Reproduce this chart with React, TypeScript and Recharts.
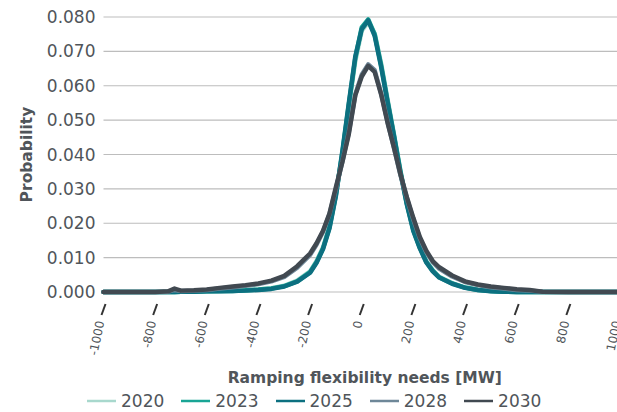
import React from 'react';
import { LineChart, Line, XAxis, YAxis, CartesianGrid, Legend } from 'recharts';

// Ramping flexibility needs [MW] (bin centres)
const rampMW = [-1000, -900, -800, -750, -725, -700, -650, -600, -550, -500, -450, -400, -350, -300, -250, -200, -175, -150, -125, -100, -75, -50, -25, 0, 25, 50, 75, 100, 125, 150, 175, 200, 225, 250, 275, 300, 350, 400, 450, 500, 550, 600, 650, 700, 800, 900, 1000];

const p2020 = [0, 0, 0, 0, 0, 0.0001, 0.0002, 0.0002, 0.0003, 0.0004, 0.0005, 0.0007, 0.0011, 0.0018, 0.0033, 0.0060, 0.0090, 0.0130, 0.0192, 0.0288, 0.0400, 0.0540, 0.0672, 0.0760, 0.0785, 0.0752, 0.0665, 0.0560, 0.0458, 0.0352, 0.0258, 0.0182, 0.0131, 0.0090, 0.0063, 0.0044, 0.0026, 0.0013, 0.0007, 0.0003, 0.0001, 0, 0, 0, 0, 0, 0];
const p2023 = [0, 0, 0, 0, 0, 0.0001, 0.0001, 0.0002, 0.0003, 0.0003, 0.0005, 0.0007, 0.0010, 0.0017, 0.0031, 0.0058, 0.0087, 0.0127, 0.0188, 0.0283, 0.0405, 0.0545, 0.0680, 0.0770, 0.0793, 0.0750, 0.0660, 0.0555, 0.0455, 0.0350, 0.0256, 0.0180, 0.0129, 0.0088, 0.0062, 0.0043, 0.0025, 0.0013, 0.0006, 0.0003, 0.0001, 0, 0, 0, 0, 0, 0];
const p2025 = [0, 0, 0, 0, 0, 0.0001, 0.0001, 0.0002, 0.0002, 0.0003, 0.0004, 0.0006, 0.0009, 0.0016, 0.0030, 0.0056, 0.0085, 0.0125, 0.0185, 0.0280, 0.0410, 0.0550, 0.0685, 0.0765, 0.0790, 0.0745, 0.0655, 0.0552, 0.0452, 0.0346, 0.0253, 0.0177, 0.0127, 0.0086, 0.0060, 0.0042, 0.0024, 0.0012, 0.0006, 0.0002, 0.0001, 0, 0, 0, 0, 0, 0];
const p2028 = [0, 0, 0, 0.0001, 0.0006, 0.0003, 0.0004, 0.0006, 0.0010, 0.0014, 0.0018, 0.0023, 0.0031, 0.0044, 0.0071, 0.0108, 0.0138, 0.0175, 0.0226, 0.0300, 0.0380, 0.0465, 0.0575, 0.0632, 0.0662, 0.0645, 0.0578, 0.0495, 0.0418, 0.0340, 0.0272, 0.0210, 0.0156, 0.0116, 0.0087, 0.0068, 0.0045, 0.0029, 0.0020, 0.0014, 0.0010, 0.0006, 0.0004, 0.0001, 0, 0, 0];
const p2030 = [0, 0, 0, 0.0002, 0.0010, 0.0004, 0.0005, 0.0007, 0.0012, 0.0016, 0.0020, 0.0025, 0.0033, 0.0047, 0.0075, 0.0112, 0.0142, 0.0178, 0.0228, 0.0305, 0.0378, 0.0460, 0.0572, 0.0627, 0.0658, 0.0640, 0.0575, 0.0492, 0.0420, 0.0342, 0.0275, 0.0215, 0.0160, 0.0120, 0.0090, 0.0072, 0.0048, 0.0031, 0.0022, 0.0016, 0.0012, 0.0008, 0.0006, 0.0001, 0, 0, 0];

const xTicks = [-1000, -800, -600, -400, -200, 0, 200, 400, 600, 800, 1000];
const yTicks = [0, 0.01, 0.02, 0.03, 0.04, 0.05, 0.06, 0.07, 0.08];

const series = [
  { key: 'y2020', name: '2020', values: p2020, color: '#a8d8cd' },
  { key: 'y2023', name: '2023', values: p2023, color: '#19a595' },
  { key: 'y2025', name: '2025', values: p2025, color: '#0c7080' },
  { key: 'y2028', name: '2028', values: p2028, color: '#6e8798' },
  { key: 'y2030', name: '2030', values: p2030, color: '#414951' },
];

const data = rampMW.map((mw, i) => {
  const row: Record<string, number> = { mw };
  series.forEach((s) => (row[s.key] = s.values[i]));
  return row;
});

const textColor = '#50555a';

const SlantTick = (props: any) => {
  const { x, y, payload } = props;
  return (
    <g>
      <line x1={x - 2} y1={y + 23} x2={x + 2} y2={y + 12} stroke="#333" strokeWidth={2} />
      <text
        x={x - 3}
        y={y + 29}
        transform={`rotate(-78, ${x - 3}, ${y + 29})`}
        textAnchor="end"
        dominantBaseline="central"
        fontSize={12}
        fill={textColor}
      >
        {payload.value}
      </text>
    </g>
  );
};

const renderLegend = (props: any) => {
  const { payload } = props;
  return (
    <div style={{ display: 'flex', paddingLeft: 87, gap: 17, alignItems: 'center' }}>
      {payload.map((p: any) => (
        <div key={p.value} style={{ display: 'flex', alignItems: 'center' }}>
          <svg width={29} height={4} style={{ marginRight: 5 }}>
            <line x1={0} y1={2} x2={29} y2={2} stroke={p.color} strokeWidth={2.5} />
          </svg>
          <span style={{ fontSize: 17, color: textColor, lineHeight: '20px' }}>{p.value}</span>
        </div>
      ))}
    </div>
  );
};

export default function App() {
  return (
    <div
      style={{
        position: 'absolute',
        left: 0,
        top: 0,
        width: 617,
        height: 412,
        overflow: 'hidden',
        background: '#fff',
        fontFamily: '"DejaVu Sans", sans-serif',
      }}
    >
      <LineChart width={660} height={412} data={data} margin={{ top: 17, right: 40, bottom: 0, left: 0 }}>
        <CartesianGrid vertical={false} stroke="#bdbdbd" strokeWidth={1.2} />
        <XAxis
          dataKey="mw"
          type="number"
          domain={[-1000, 1000]}
          ticks={xTicks}
          height={120}
          axisLine={false}
          tickLine={false}
          tickSize={0}
          tickMargin={0}
          interval={0}
          tick={<SlantTick />}
          label={{
            value: 'Ramping flexibility needs [MW]',
            position: 'insideBottom',
            offset: 29,
            dx: 3,
            fontSize: 15.5,
            fontWeight: 'bold',
            fill: textColor,
          }}
        />
        <YAxis
          type="number"
          domain={[0, 0.08]}
          ticks={yTicks}
          width={103.5}
          axisLine={false}
          tickLine={false}
          tickFormatter={(v: number) => v.toFixed(3)}
          tick={{ fontSize: 17, fill: textColor }}
          label={{
            value: 'Probability',
            angle: -90,
            position: 'center',
            dx: -25,
            fontSize: 15.5,
            fontWeight: 'bold',
            fill: textColor,
          }}
        />
        <Legend
          layout="horizontal"
          verticalAlign="middle"
          align="center"
          content={renderLegend}
          wrapperStyle={{ top: 391, left: 0, width: 617, height: 20 }}
        />
        {series.map((s) => (
          <Line
            key={s.key}
            type="linear"
            dataKey={s.key}
            name={s.name}
            stroke={s.color}
            strokeWidth={4.5}
            strokeLinejoin="round"
            strokeLinecap="round"
            dot={false}
            activeDot={false}
            isAnimationActive={false}
          />
        ))}
      </LineChart>
    </div>
  );
}
